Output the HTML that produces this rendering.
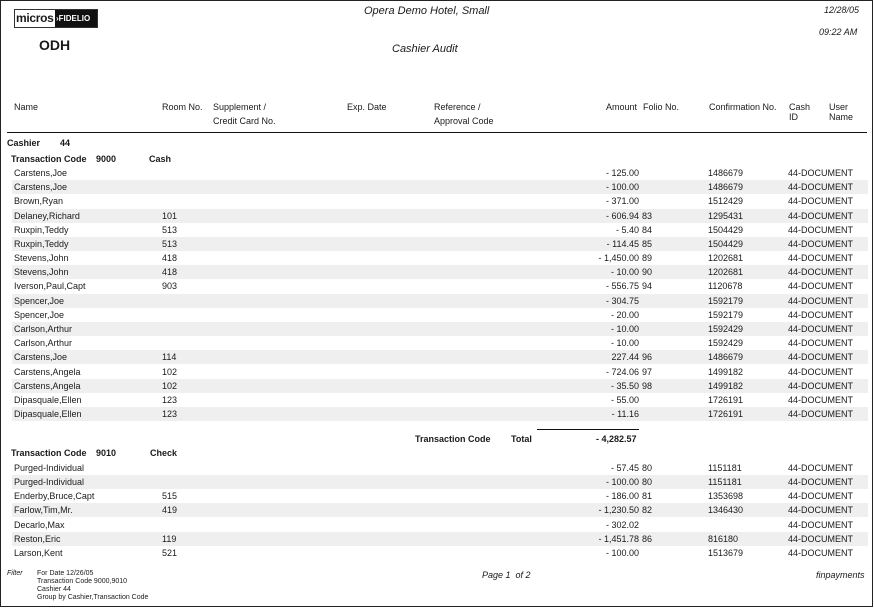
<!DOCTYPE html>
<html><head><meta charset="utf-8"><style>
*{margin:0;padding:0;box-sizing:border-box}
body{width:874px;height:608px;background:#fff;position:relative;font-family:"Liberation Sans",Arial,sans-serif;font-size:9px;color:#1a1a1a;overflow:hidden}
#pg{position:absolute;left:0;top:0;width:873px;height:607px;border:1px solid #222}
.a{position:absolute;white-space:nowrap}
.r{position:absolute;left:12px;width:856px;height:14px;line-height:14px}
.r.s{background:#efefef}
.r span{position:absolute;top:0;white-space:nowrap}
.n{left:2px}.rm{left:150px}.am{right:229px;text-align:right}.fo{left:630px}.cf{left:696px}.ci{left:776px}
.it{font-style:italic}
.b{font-weight:bold}
</style></head><body><div id="pg"></div>
<div class="a" style="left:14px;top:9px;width:84px;height:19px;border:1px solid #333;background:#fff"></div>
<div class="a b" style="left:16px;top:10px;font-size:12px;line-height:17px;letter-spacing:-0.3px">micros</div>
<div class="a" style="left:55px;top:10px;width:42px;height:17px;background:#111;color:#fff;font-size:8px;font-weight:bold;line-height:17px;padding-left:1px">&#8250;FIDELIO</div>
<div class="a b" style="left:39px;top:37px;font-size:14px">ODH</div>
<div class="a it" style="left:364px;top:5px;font-size:11px">Opera Demo Hotel, Small</div>
<div class="a it" style="left:392px;top:43px;font-size:11px">Cashier Audit</div>
<div class="a it" style="left:824px;top:5px;font-size:9px">12/28/05</div>
<div class="a it" style="left:819px;top:27px;font-size:9px">09:22 AM</div>

<div class="a" style="left:14px;top:102px">Name</div>
<div class="a" style="left:162px;top:102px">Room No.</div>
<div class="a" style="left:213px;top:102px">Supplement /</div>
<div class="a" style="left:213px;top:116px">Credit Card No.</div>
<div class="a" style="left:347px;top:102px">Exp. Date</div>
<div class="a" style="left:434px;top:102px">Reference /</div>
<div class="a" style="left:434px;top:116px">Approval Code</div>
<div class="a" style="left:606px;top:102px">Amount</div>
<div class="a" style="left:643px;top:102px">Folio No.</div>
<div class="a" style="left:709px;top:102px">Confirmation No.</div>
<div class="a" style="left:789px;top:102px;line-height:10px">Cash<br>ID</div>
<div class="a" style="left:829px;top:102px;line-height:10px">User<br>Name</div>
<div class="a" style="left:7px;top:132px;width:860px;height:1px;background:#111"></div>

<div class="a b" style="left:7px;top:138px">Cashier</div><div class="a b" style="left:60px;top:138px">44</div>
<div class="a b" style="left:11px;top:154px">Transaction Code</div><div class="a b" style="left:96px;top:154px">9000</div><div class="a b" style="left:149px;top:154px">Cash</div>

<div class="r" style="top:166px"><span class="n">Carstens,Joe</span><span class="am">- 125.00</span><span class="cf">1486679</span><span class="ci">44-DOCUMENT</span></div>
<div class="r s" style="top:180px"><span class="n">Carstens,Joe</span><span class="am">- 100.00</span><span class="cf">1486679</span><span class="ci">44-DOCUMENT</span></div>
<div class="r" style="top:194px"><span class="n">Brown,Ryan</span><span class="am">- 371.00</span><span class="cf">1512429</span><span class="ci">44-DOCUMENT</span></div>
<div class="r s" style="top:209px"><span class="n">Delaney,Richard</span><span class="rm">101</span><span class="am">- 606.94</span><span class="fo">83</span><span class="cf">1295431</span><span class="ci">44-DOCUMENT</span></div>
<div class="r" style="top:223px"><span class="n">Ruxpin,Teddy</span><span class="rm">513</span><span class="am">- 5.40</span><span class="fo">84</span><span class="cf">1504429</span><span class="ci">44-DOCUMENT</span></div>
<div class="r s" style="top:237px"><span class="n">Ruxpin,Teddy</span><span class="rm">513</span><span class="am">- 114.45</span><span class="fo">85</span><span class="cf">1504429</span><span class="ci">44-DOCUMENT</span></div>
<div class="r" style="top:251px"><span class="n">Stevens,John</span><span class="rm">418</span><span class="am">- 1,450.00</span><span class="fo">89</span><span class="cf">1202681</span><span class="ci">44-DOCUMENT</span></div>
<div class="r s" style="top:265px"><span class="n">Stevens,John</span><span class="rm">418</span><span class="am">- 10.00</span><span class="fo">90</span><span class="cf">1202681</span><span class="ci">44-DOCUMENT</span></div>
<div class="r" style="top:279px"><span class="n">Iverson,Paul,Capt</span><span class="rm">903</span><span class="am">- 556.75</span><span class="fo">94</span><span class="cf">1120678</span><span class="ci">44-DOCUMENT</span></div>
<div class="r s" style="top:294px"><span class="n">Spencer,Joe</span><span class="am">- 304.75</span><span class="cf">1592179</span><span class="ci">44-DOCUMENT</span></div>
<div class="r" style="top:308px"><span class="n">Spencer,Joe</span><span class="am">- 20.00</span><span class="cf">1592179</span><span class="ci">44-DOCUMENT</span></div>
<div class="r s" style="top:322px"><span class="n">Carlson,Arthur</span><span class="am">- 10.00</span><span class="cf">1592429</span><span class="ci">44-DOCUMENT</span></div>
<div class="r" style="top:336px"><span class="n">Carlson,Arthur</span><span class="am">- 10.00</span><span class="cf">1592429</span><span class="ci">44-DOCUMENT</span></div>
<div class="r s" style="top:350px"><span class="n">Carstens,Joe</span><span class="rm">114</span><span class="am">227.44</span><span class="fo">96</span><span class="cf">1486679</span><span class="ci">44-DOCUMENT</span></div>
<div class="r" style="top:365px"><span class="n">Carstens,Angela</span><span class="rm">102</span><span class="am">- 724.06</span><span class="fo">97</span><span class="cf">1499182</span><span class="ci">44-DOCUMENT</span></div>
<div class="r s" style="top:379px"><span class="n">Carstens,Angela</span><span class="rm">102</span><span class="am">- 35.50</span><span class="fo">98</span><span class="cf">1499182</span><span class="ci">44-DOCUMENT</span></div>
<div class="r" style="top:393px"><span class="n">Dipasquale,Ellen</span><span class="rm">123</span><span class="am">- 55.00</span><span class="cf">1726191</span><span class="ci">44-DOCUMENT</span></div>
<div class="r s" style="top:407px"><span class="n">Dipasquale,Ellen</span><span class="rm">123</span><span class="am">- 11.16</span><span class="cf">1726191</span><span class="ci">44-DOCUMENT</span></div>

<div class="a" style="left:537px;top:429px;width:102px;height:1px;background:#111"></div>
<div class="a b" style="left:415px;top:434px">Transaction Code</div>
<div class="a b" style="left:511px;top:434px">Total</div>
<div class="a b" style="left:596px;top:434px">- 4,282.57</div>

<div class="a b" style="left:11px;top:448px">Transaction Code</div><div class="a b" style="left:96px;top:448px">9010</div><div class="a b" style="left:150px;top:448px">Check</div>

<div class="r" style="top:461px"><span class="n">Purged-Individual</span><span class="am">- 57.45</span><span class="fo">80</span><span class="cf">1151181</span><span class="ci">44-DOCUMENT</span></div>
<div class="r s" style="top:475px"><span class="n">Purged-Individual</span><span class="am">- 100.00</span><span class="fo">80</span><span class="cf">1151181</span><span class="ci">44-DOCUMENT</span></div>
<div class="r" style="top:489px"><span class="n">Enderby,Bruce,Capt</span><span class="rm">515</span><span class="am">- 186.00</span><span class="fo">81</span><span class="cf">1353698</span><span class="ci">44-DOCUMENT</span></div>
<div class="r s" style="top:503px"><span class="n">Farlow,Tim,Mr.</span><span class="rm">419</span><span class="am">- 1,230.50</span><span class="fo">82</span><span class="cf">1346430</span><span class="ci">44-DOCUMENT</span></div>
<div class="r" style="top:518px"><span class="n">Decarlo,Max</span><span class="am">- 302.02</span><span class="ci">44-DOCUMENT</span></div>
<div class="r s" style="top:532px"><span class="n">Reston,Eric</span><span class="rm">119</span><span class="am">- 1,451.78</span><span class="fo">86</span><span class="cf">816180</span><span class="ci">44-DOCUMENT</span></div>
<div class="r" style="top:546px"><span class="n">Larson,Kent</span><span class="rm">521</span><span class="am">- 100.00</span><span class="cf">1513679</span><span class="ci">44-DOCUMENT</span></div>

<div class="a it" style="left:7px;top:570px;font-size:7px">Filter</div>
<div class="a" style="left:37px;top:570px;font-size:7px;line-height:8px">For Date 12/26/05<br>Transaction Code 9000,9010<br>Cashier 44<br>Group by Cashier,Transaction Code</div>
<div class="a it" style="left:482px;top:570px;font-size:9px">Page 1 &nbsp;of 2</div>
<div class="a it" style="left:816px;top:570px;font-size:9px">finpayments</div>
</body></html>
